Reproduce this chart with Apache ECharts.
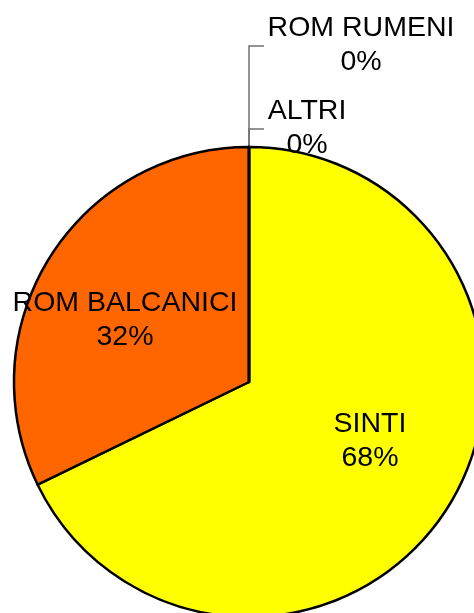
<!DOCTYPE html>
<html>
<head>
<meta charset="utf-8">
<script src="https://cdn.jsdelivr.net/npm/echarts@6/dist/echarts.min.js"></script>
<style>
  html, body { margin: 0; padding: 0; background: #fff; }
  #main { width: 474px; height: 613px; }
</style>
</head>
<body>
<div id="main"></div>
<script>
// dati del grafico
const categories = ["SINTI", "ROM BALCANICI", "ALTRI", "ROM RUMENI"];
const values = [67.8, 32.2, 0, 0];
const colors = ["#FFFF00", "#FF6600", "#FFFFFF", "#FFFFFF"];

let myChart = echarts.init(document.getElementById("main"));

// posizione delle etichette (come nel grafico originale)
const labelPos = [
  { x: 370, y: 441 },
  { x: 125, y: 320 },
  { x: 307, y: 128, line: [[249, 147], [249, 129], [264, 129]] },
  { x: 361, y: 45, line: [[249, 147], [249, 46], [264, 46]] }
];

let option = {
  animation: false,
  series: [
    {
      type: "pie",
      center: [249, 382],
      radius: 235,
      startAngle: 90,
      clockwise: true,
      avoidLabelOverlap: false,
      percentPrecision: 0,
      itemStyle: {
        borderColor: "#000",
        borderWidth: 2.5
      },
      label: {
        show: true,
        position: "outside",
        formatter: "{b}\n{d}%",
        color: "#000",
        fontFamily: "Liberation Sans, Arial, sans-serif",
        fontSize: 28.5,
        lineHeight: 34,
        align: "center"
      },
      labelLine: {
        show: true,
        lineStyle: { color: "#707070", width: 1.5 }
      },
      labelLayout: function (params) {
        let p = labelPos[params.dataIndex];
        let res = { x: p.x, y: p.y, align: "center", verticalAlign: "middle" };
        if (p.line) res.labelLinePoints = p.line;
        return res;
      },
      data: categories.map((name, i) => ({
        name: name,
        value: values[i],
        itemStyle: { color: colors[i] },
        labelLine: { show: i >= 2 }
      }))
    }
  ]
};

myChart.setOption(option);
</script>
</body>
</html>
